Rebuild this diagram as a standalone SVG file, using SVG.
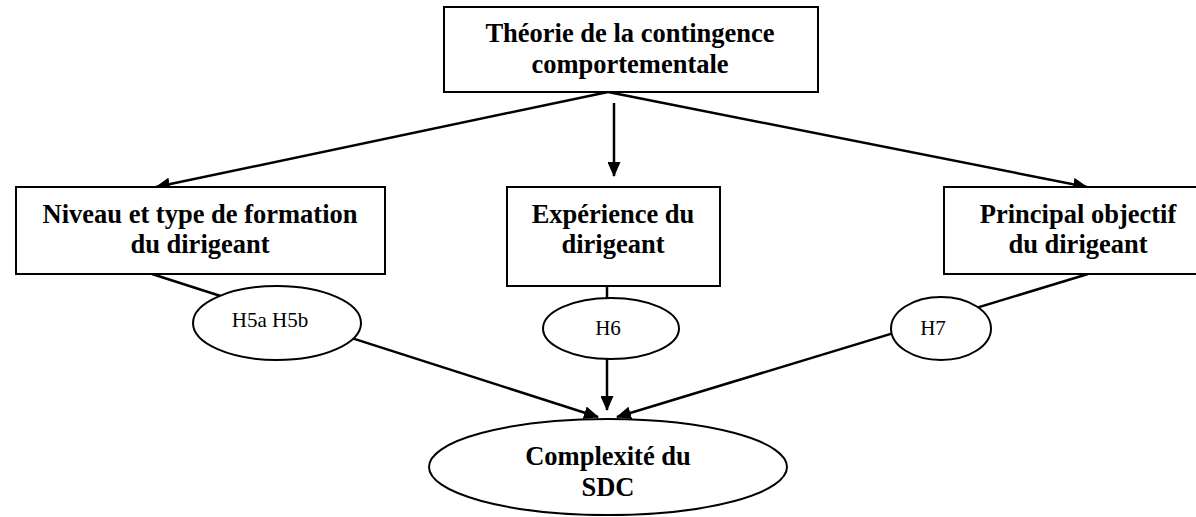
<svg xmlns="http://www.w3.org/2000/svg" width="1196" height="517" viewBox="0 0 1196 517">
<style>
.box{fill:#fff;stroke:#000;stroke-width:2}
.ell{fill:#fff;stroke:#000;stroke-width:2}
.t{font-weight:bold;text-anchor:middle;fill:#000}
.h{text-anchor:middle;fill:#000}
.c{stroke:#000;stroke-width:2.5;fill:none}
</style>
<defs>
<marker id="ah" markerWidth="15" markerHeight="13" refX="14" refY="6.5" orient="auto" markerUnits="userSpaceOnUse">
<path d="M0,0 L15,6.5 L0,13 Z" fill="#000"/>
</marker>
</defs>
<g id="connectors">
<line class="c" x1="608" y1="92" x2="156" y2="187" marker-end="url(#ah)"/>
<line class="c" x1="614" y1="103" x2="614" y2="176" marker-end="url(#ah)"/>
<line class="c" x1="608" y1="92" x2="1087" y2="187" marker-end="url(#ah)"/>
<line class="c" x1="152" y1="274" x2="598" y2="417" marker-end="url(#ah)"/>
<line class="c" x1="607" y1="286" x2="607" y2="410" marker-end="url(#ah)"/>
<line class="c" x1="1088" y1="274" x2="617" y2="417" marker-end="url(#ah)"/>
</g>
<g font-family="Liberation Serif, Times New Roman, serif" font-size="26.5">
<g id="n-theorie">
<rect class="box" x="444" y="7" width="374" height="85"/>
<text class="t" x="630" y="42">Théorie de la contingence</text>
<text class="t" x="630" y="73">comportementale</text>
</g>
<g id="n-niveau">
<rect class="box" x="16" y="187" width="369" height="87"/>
<text class="t" x="200" y="223">Niveau et type de formation</text>
<text class="t" x="200" y="253">du dirigeant</text>
</g>
<g id="n-experience">
<rect class="box" x="507" y="187" width="213" height="99"/>
<text class="t" x="613" y="223">Expérience du</text>
<text class="t" x="613" y="253">dirigeant</text>
</g>
<g id="n-objectif">
<rect class="box" x="944" y="187" width="260" height="87"/>
<text class="t" x="1078" y="223">Principal objectif</text>
<text class="t" x="1078" y="253">du dirigeant</text>
</g>
<g id="n-h5">
<ellipse class="ell" cx="277" cy="323" rx="84" ry="37"/>
<text class="h" x="270" y="327" font-size="21">H5a H5b</text>
</g>
<g id="n-h6">
<ellipse class="ell" cx="611" cy="328.5" rx="68" ry="30.5"/>
<text class="h" x="608" y="335" font-size="21">H6</text>
</g>
<g id="n-h7">
<ellipse class="ell" cx="941" cy="328.5" rx="50" ry="31.5"/>
<text class="h" x="933" y="335" font-size="21">H7</text>
</g>
<g id="n-complexite">
<ellipse class="ell" cx="608" cy="467" rx="179" ry="48"/>
<text class="t" x="608" y="465">Complexité du</text>
<text class="t" x="608" y="496">SDC</text>
</g>
</g>
</svg>
